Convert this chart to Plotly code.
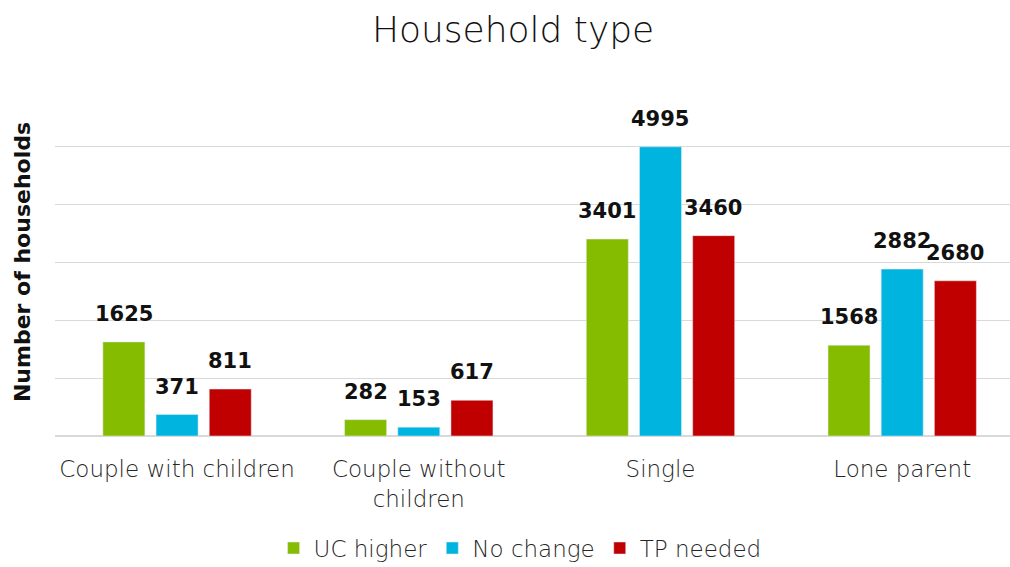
import plotly.graph_objects as go

categories = ["Couple with children", "Couple without<br>children", "Single", "Lone parent"]
uc_higher = [1625, 282, 3401, 1568]
no_change = [371, 153, 4995, 2882]
tp_needed = [811, 617, 3460, 2680]

series = [
    ("UC higher", uc_higher, "#86bc00"),
    ("No change", no_change, "#00b4e0"),
    ("TP needed", tp_needed, "#c00000"),
]
label_xshift = [-53, 0, 53]

LIGHT = "DejaVu Sans"

fig = go.Figure()
for (name, vals, col), xs in zip(series, label_xshift):
    fig.add_trace(go.Bar(name=name, x=categories, y=vals, marker_color=col))
    for c, v in zip(categories, vals):
        fig.add_annotation(x=c, y=v, text=str(v), showarrow=False, xshift=xs, yshift=28,
                           yanchor="middle",
                           font=dict(family="DejaVu Sans", size=21, color="#111111", weight="bold"))

fig.update_layout(
    width=1010, height=567,
    paper_bgcolor="white", plot_bgcolor="white",
    margin=dict(l=55, r=0, t=88, b=131, autoexpand=False),
    barmode="group", bargap=0.34, bargroupgap=0.21,
    title=dict(text="Household type", x=0.508, xanchor="center", y=0.948, yanchor="middle",
               font=dict(family=LIGHT, size=36, color="#111111", weight=200)),
    xaxis=dict(range=[-0.505, 3.446], showgrid=False, zeroline=False, showline=False,
               automargin=False, ticklabelstandoff=17,
               tickfont=dict(family=LIGHT, size=23, color="#262626", weight=200), ticks=""),
    yaxis=dict(range=[0, 6010], dtick=1000, showticklabels=False, gridcolor="#d9d9d9",
               automargin=False,
               zeroline=True, zerolinecolor="#d9d9d9", zerolinewidth=1.5,
               title=dict(text="<b>Number of households</b>", standoff=17,
                          font=dict(family="DejaVu Sans", size=22, color="#111111"))),
    legend=dict(orientation="h", x=0.487, xanchor="center", y=-0.322, yanchor="middle",
                font=dict(family=LIGHT, size=23, color="#262626", weight=200), itemwidth=30),
)

fig.write_html("out.html", config={"displayModeBar": False},
               post_script="document.body.style.margin='0';")
